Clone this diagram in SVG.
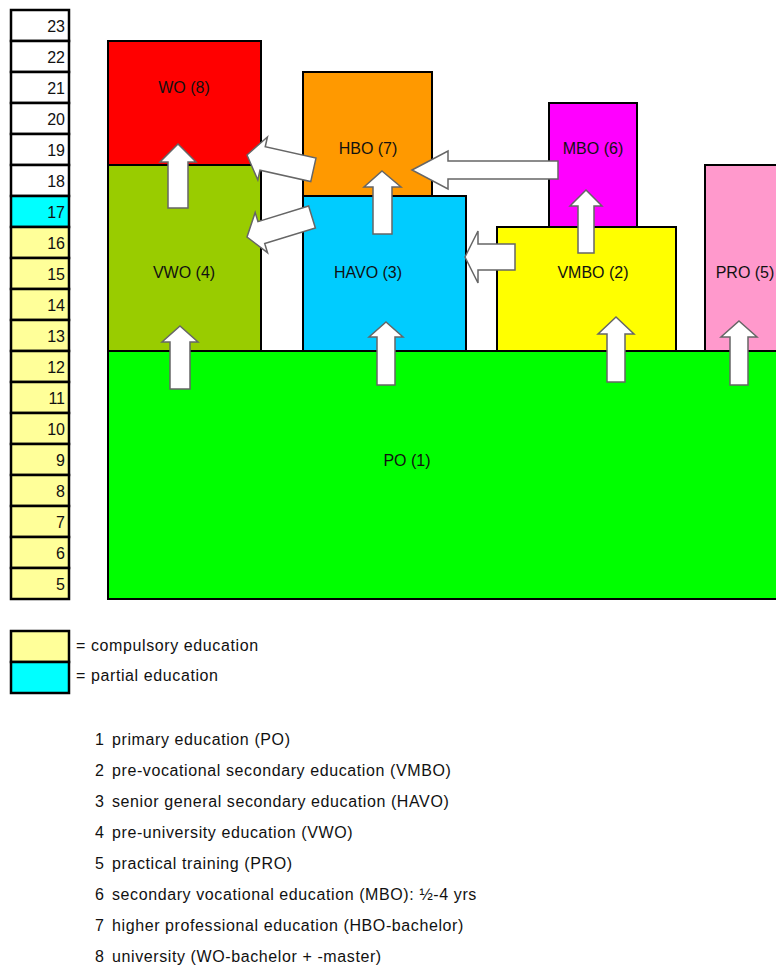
<svg xmlns="http://www.w3.org/2000/svg" width="776" height="966" viewBox="0 0 776 966">
<style>
text{font-family:"Liberation Sans",Arial,sans-serif;fill:#111}
.age rect{stroke:#000;stroke-width:2.5}
.age text{font-size:16px;text-anchor:end}
.box{stroke:#000;stroke-width:2}
.lbl{font-size:16px;text-anchor:middle}
.arr{fill:#fff;stroke:#666;stroke-width:1.5;stroke-linejoin:miter}
.leg{font-size:16px;letter-spacing:0.6px}
.w{fill:#fff}.c{fill:#00ffff}.y{fill:#ffff99}
</style>
<rect width="776" height="966" fill="#fff"/>
<g id="age-scale" class="age">
<rect class="w" x="11" y="10" width="58" height="31"/><text x="65" y="31.5">23</text>
<rect class="w" x="11" y="41" width="58" height="31"/><text x="65" y="62.5">22</text>
<rect class="w" x="11" y="72" width="58" height="31"/><text x="65" y="93.5">21</text>
<rect class="w" x="11" y="103" width="58" height="31"/><text x="65" y="124.5">20</text>
<rect class="w" x="11" y="134" width="58" height="31"/><text x="65" y="155.5">19</text>
<rect class="w" x="11" y="165" width="58" height="31"/><text x="65" y="186.5">18</text>
<rect class="c" x="11" y="196" width="58" height="31"/><text x="65" y="217.5">17</text>
<rect class="y" x="11" y="227" width="58" height="31"/><text x="65" y="248.5">16</text>
<rect class="y" x="11" y="258" width="58" height="31"/><text x="65" y="279.5">15</text>
<rect class="y" x="11" y="289" width="58" height="31"/><text x="65" y="310.5">14</text>
<rect class="y" x="11" y="320" width="58" height="31"/><text x="65" y="341.5">13</text>
<rect class="y" x="11" y="351" width="58" height="31"/><text x="65" y="372.5">12</text>
<rect class="y" x="11" y="382" width="58" height="31"/><text x="65" y="403.5">11</text>
<rect class="y" x="11" y="413" width="58" height="31"/><text x="65" y="434.5">10</text>
<rect class="y" x="11" y="444" width="58" height="31"/><text x="65" y="465.5">9</text>
<rect class="y" x="11" y="475" width="58" height="31"/><text x="65" y="496.5">8</text>
<rect class="y" x="11" y="506" width="58" height="31"/><text x="65" y="527.5">7</text>
<rect class="y" x="11" y="537" width="58" height="31"/><text x="65" y="558.5">6</text>
<rect class="y" x="11" y="568" width="58" height="31"/><text x="65" y="589.5">5</text>
</g>
<g id="wo"><rect class="box" x="108" y="41" width="153" height="124" fill="#ff0000"/><text class="lbl" x="184" y="93">WO (8)</text></g>
<g id="vwo"><rect class="box" x="108" y="165" width="153" height="186" fill="#99cc00"/><text class="lbl" x="184" y="278">VWO (4)</text></g>
<g id="hbo"><rect class="box" x="303" y="72" width="129" height="124" fill="#ff9900"/><text class="lbl" x="368" y="154">HBO (7)</text></g>
<g id="havo"><rect class="box" x="303" y="196" width="163" height="155" fill="#00ccff"/><text class="lbl" x="368" y="278">HAVO (3)</text></g>
<g id="mbo"><rect class="box" x="549" y="103" width="88" height="124" fill="#ff00ff"/><text class="lbl" x="593" y="154">MBO (6)</text></g>
<g id="vmbo"><rect class="box" x="497" y="227" width="179" height="124" fill="#ffff00"/><text class="lbl" x="593" y="278">VMBO (2)</text></g>
<g id="pro"><rect class="box" x="705" y="165" width="90" height="186" fill="#ff99cc"/><text class="lbl" x="745" y="278">PRO (5)</text></g>
<g id="po"><rect class="box" x="108" y="351" width="690" height="248" fill="#00ff00"/><text class="lbl" x="407" y="466">PO (1)</text></g>
<g id="connectors">
<polygon class="arr" points="180,326 198,342 190,342 190,389 170,389 170,342 162,342"/>
<polygon class="arr" points="386,322 403,337 395,337 395,385 377,385 377,337 369,337"/>
<polygon class="arr" points="616,317 634,334 625,334 625,382 607,382 607,334 598,334"/>
<polygon class="arr" points="739,321 757,337 748,337 748,385 730,385 730,337 721,337"/>
<polygon class="arr" points="178,144 196,162 188,162 188,208 168,208 168,162 160,162"/>
<polygon class="arr" points="382,171 401,187 392,187 392,234 373,234 373,187 364,187"/>
<polygon class="arr" points="586,190 602,206 594,206 594,253 578,253 578,206 570,206"/>
<polygon class="arr" points="412,170 448,151 448,161 558,161 558,179 448,179 448,189"/>
<polygon class="arr" points="465,257 478,231 478,244 515,244 515,270 478,270 478,283"/>
<polygon class="arr" transform="translate(247,155) rotate(12.6)" points="0,0 16,-22 16,-12 68,-12 68,12 16,12 16,22"/>
<polygon class="arr" transform="translate(247,237) rotate(-17.1)" points="0,0 15,-21 15,-11.5 68,-11.5 68,11.5 15,11.5 15,21"/>
</g>
<g id="legend">
<rect x="11" y="631" width="58" height="31" fill="#ffff99" stroke="#000" stroke-width="2.5"/>
<rect x="11" y="662" width="58" height="31" fill="#00ffff" stroke="#000" stroke-width="2.5"/>
<text class="leg" x="76" y="651">= compulsory education</text>
<text class="leg" x="76" y="681">= partial education</text>
</g>
<g id="key" class="leg">
<text x="95" y="745">1</text><text x="112" y="745">primary education (PO)</text>
<text x="95" y="776">2</text><text x="112" y="776">pre-vocational secondary education (VMBO)</text>
<text x="95" y="807">3</text><text x="112" y="807">senior general secondary education (HAVO)</text>
<text x="95" y="838">4</text><text x="112" y="838">pre-university education (VWO)</text>
<text x="95" y="869">5</text><text x="112" y="869">practical training (PRO)</text>
<text x="95" y="900">6</text><text x="112" y="900">secondary vocational education (MBO): ½-4 yrs</text>
<text x="95" y="931">7</text><text x="112" y="931">higher professional education (HBO-bachelor)</text>
<text x="95" y="962">8</text><text x="112" y="962">university (WO-bachelor + -master)</text>
</g>
</svg>
